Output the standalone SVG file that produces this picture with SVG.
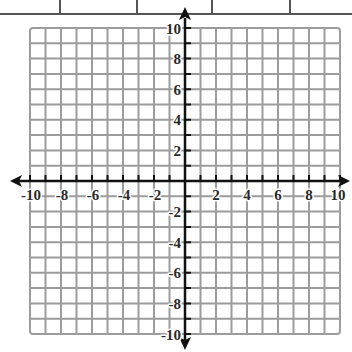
<svg xmlns="http://www.w3.org/2000/svg" width="352" height="352" viewBox="0 0 352 352">
<style>
.grid{stroke:#9c9c9c;stroke-width:2;fill:none}
.axis{stroke:#111;stroke-width:2.5;fill:none}
.tick{stroke:#111;stroke-width:2}
.head{fill:#111}
.lbl{font-family:"Liberation Serif",serif;font-size:15px;font-weight:bold;fill:#2a2a2a;stroke:#fff;stroke-width:3;paint-order:stroke;stroke-linejoin:round}
.xl{text-anchor:middle}
.yl{text-anchor:end}
.top{stroke:#555;stroke-width:2;fill:none}
</style>
<rect width="352" height="352" fill="#fff"/>
<g id="table-edge">
<path class="top" d="M0 14H352M60 0V14M137 0V14M212 0V14M290 0V14"/>
</g>
<g id="grid">
<rect class="grid" x="30" y="28" width="310" height="306" rx="3"/>
<path class="grid" d="M45.5 28V334M61 28V334M76.5 28V334M92 28V334M107.5 28V334M123 28V334M138.5 28V334M154 28V334M169.5 28V334M185 28V334M200.5 28V334M216 28V334M231.5 28V334M247 28V334M262.5 28V334M278 28V334M293.5 28V334M309 28V334M324.5 28V334"/>
<path class="grid" d="M30 43.3H340M30 58.6H340M30 73.9H340M30 89.2H340M30 104.5H340M30 119.8H340M30 135.1H340M30 150.4H340M30 165.7H340M30 181H340M30 196.3H340M30 211.6H340M30 226.9H340M30 242.2H340M30 257.5H340M30 272.8H340M30 288.1H340M30 303.4H340M30 318.7H340"/>
</g>
<g id="connectors">
<path class="axis" d="M18 181H342"/>
<path class="axis" d="M185 18V344"/>
<polygon class="head" points="10,181 22,175 19,181 22,187"/>
<polygon class="head" points="350,181 338,175 341,181 338,187"/>
<polygon class="head" points="185,7 179,20 185,17 191,20"/>
<polygon class="head" points="185,350 179,337 185,340 191,337"/>
<path class="tick" d="M30 181V175M45.5 181V175M61 181V175M76.5 181V175M92 181V175M107.5 181V175M123 181V175M138.5 181V175M154 181V175M169.5 181V175M200.5 181V175M216 181V175M231.5 181V175M247 181V175M262.5 181V175M278 181V175M293.5 181V175M309 181V175M324.5 181V175M340 181V175"/>
<path class="tick" d="M185 28H191M185 43.3H191M185 58.6H191M185 73.9H191M185 89.2H191M185 104.5H191M185 119.8H191M185 135.1H191M185 150.4H191M185 165.7H191M185 196.3H191M185 211.6H191M185 226.9H191M185 242.2H191M185 257.5H191M185 272.8H191M185 288.1H191M185 303.4H191M185 318.7H191M185 334H191"/>
</g>
<g id="x-labels">
<text class="lbl xl" x="31" y="200">-10</text>
<text class="lbl xl" x="62" y="200">-8</text>
<text class="lbl xl" x="93" y="200">-6</text>
<text class="lbl xl" x="124" y="200">-4</text>
<text class="lbl xl" x="155" y="200">-2</text>
<text class="lbl xl" x="216" y="200">2</text>
<text class="lbl xl" x="247" y="200">4</text>
<text class="lbl xl" x="278" y="200">6</text>
<text class="lbl xl" x="309" y="200">8</text>
<text class="lbl xl" x="338" y="200">10</text>
</g>
<g id="y-labels">
<text class="lbl yl" x="181" y="34">10</text>
<text class="lbl yl" x="181" y="64">8</text>
<text class="lbl yl" x="181" y="95">6</text>
<text class="lbl yl" x="181" y="125">4</text>
<text class="lbl yl" x="181" y="156">2</text>
<text class="lbl yl" x="181" y="217">-2</text>
<text class="lbl yl" x="181" y="248">-4</text>
<text class="lbl yl" x="181" y="278">-6</text>
<text class="lbl yl" x="181" y="309">-8</text>
<text class="lbl yl" x="181" y="340">-10</text>
</g>
</svg>
